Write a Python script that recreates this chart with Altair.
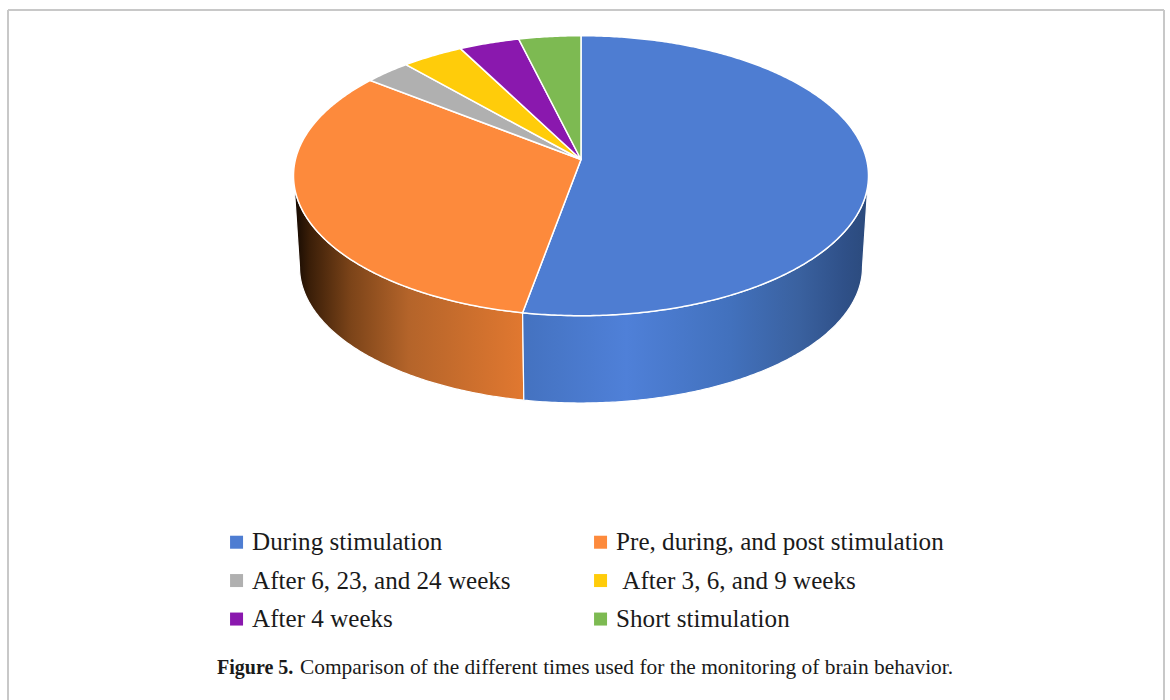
import math
import altair as alt

# Monitoring times and their share of the studies (percent)
categories = [
    "During stimulation",
    "Pre, during, and post stimulation",
    "After 6, 23, and 24 weeks",
    "\u200b\u00a0After 3, 6, and 9 weeks",
    "After 4 weeks",
    "Short stimulation",
]
shares = [52.9, 32.6, 2.9, 3.9, 3.8, 3.9]
colors = ["#4e7dd2", "#fd8a3c", "#b0b0b0", "#ffcc0a", "#8a18ae", "#7dba52"]

serif = "Liberation Serif"

# Perspective of the disc: upper and lower rim, in canvas units
APEX_X = 581.0
APEX_Y = 159.5
TOP_RIM = dict(far=35.7, near=315.7, half_width=287.5)
BOTTOM_RIM = dict(far=131.0, near=403.0, half_width=281.5)

# Solved so that the disc centre lands on the apex of the top face
TILT = (TOP_RIM["far"] + TOP_RIM["near"] - 2 * APEX_Y) / (TOP_RIM["near"] - TOP_RIM["far"])


def rim_point(angle, rim):
    """Project a clockwise-from-top angle (radians) onto a rim."""
    u, v = math.sin(angle), math.cos(angle)
    a_plus_b = rim["far"] * (1 + TILT)
    b_minus_a = rim["near"] * (1 - TILT)
    b = (a_plus_b + b_minus_a) / 2
    a = (a_plus_b - b_minus_a) / 2
    w = 1 + TILT * v
    d = rim["half_width"] * math.sqrt(1 - TILT * TILT)
    return [APEX_X + d * u / w, (a * v + b) / w]


def arc_angles(start, end, step=0.01):
    n = max(2, int((end - start) / step))
    return [start + (end - start) * i / n for i in range(n + 1)]


total = sum(shares)
edges = [0.0]
for s in shares:
    edges.append(edges[-1] + s / total * 2 * math.pi)

top_features = []
for name, start, end in zip(categories, edges[:-1], edges[1:]):
    ring = [[APEX_X, APEX_Y]] + [rim_point(t, TOP_RIM) for t in arc_angles(start, end)]
    ring.append([APEX_X, APEX_Y])
    top_features.append({
        "type": "Feature",
        "properties": {"name": name},
        "geometry": {"type": "Polygon", "coordinates": [ring]},
    })

# The wall is visible between the two silhouette generators of the disc
turn = math.pi / 2 + math.asin(TILT)
wall_ranges = [(turn, edges[1]), (edges[1], 2 * math.pi - turn)]


def wall_feature(start, end):
    angles = arc_angles(start, end)
    ring = [rim_point(t, TOP_RIM) for t in angles]
    ring += [rim_point(t, BOTTOM_RIM) for t in reversed(angles)]
    ring.append(ring[0])
    return {
        "type": "Feature",
        "properties": {},
        "geometry": {"type": "Polygon", "coordinates": [ring]},
    }


blue_wall_stops = [
    (0.0, "#4472c0"), (0.3, "#4f80d8"), (0.6, "#4271bd"),
    (0.8, "#3a619f"), (0.93, "#2f5088"), (1.0, "#2b4a7c"),
]
orange_wall_stops = [
    (0.0, "#120801"), (0.07, "#3a1e08"), (0.25, "#7c4419"),
    (0.5, "#b4642a"), (1.0, "#e17830"),
]

identity = dict(type="identity", scale=1, translate=[0, 0])


def wall_layer(feature, stops):
    gradient = alt.Gradient(
        gradient="linear", x1=0, x2=1, y1=0, y2=0,
        stops=[alt.GradientStop(offset=o, color=c) for o, c in stops],
    )
    return (
        alt.Chart(alt.Data(values=[feature]))
        .mark_geoshape(fill=gradient, stroke="#ffffff", strokeWidth=1.2)
        .project(**identity)
    )


walls = [
    wall_layer(wall_feature(*wall_ranges[1]), orange_wall_stops),
    wall_layer(wall_feature(*wall_ranges[0]), blue_wall_stops),
]

top_face = (
    alt.Chart(alt.Data(values=top_features))
    .mark_geoshape(stroke="#ffffff", strokeWidth=1.5)
    .encode(
        color=alt.Color(
            "properties.name:N",
            sort=None,
            scale=alt.Scale(domain=categories, range=colors),
            legend=alt.Legend(
                title=None,
                orient="none",
                direction="horizontal",
                legendX=224,
                legendY=529.5,
                columns=2,
                columnPadding=77,
                rowPadding=12.5,
                padding=0,
                symbolType="square",
                symbolSize=169,
                symbolStrokeWidth=0,
                labelFont=serif,
                labelFontSize=25.1,
                labelColor="#1a1a1a",
                labelOffset=3,
                labelLimit=500,
            ),
        )
    )
    .project(**identity)
)

# Page frame: left, right and top hairlines
frame_color = "#c8c8c8"
frame = [
    alt.Chart().mark_rule(color=frame_color, strokeWidth=2).encode(
        x=alt.value(8), y=alt.value(10), y2=alt.value(700)),
    alt.Chart().mark_rule(color=frame_color, strokeWidth=2).encode(
        x=alt.value(1164), y=alt.value(10), y2=alt.value(700)),
    alt.Chart().mark_rule(color=frame_color, strokeWidth=2).encode(
        x=alt.value(8), x2=alt.value(1164), y=alt.value(10)),
]

caption_lead = alt.Chart().mark_text(
    text="Figure 5.", font=serif, fontSize=20, fontWeight="bold",
    align="left", baseline="alphabetic", color="#1a1a1a",
).encode(x=alt.value(217), y=alt.value(674))

caption_body = alt.Chart().mark_text(
    text="Comparison of the different times used for the monitoring of brain behavior.",
    font=serif, fontSize=21.4, align="left", baseline="alphabetic", color="#1a1a1a",
).encode(x=alt.value(300), y=alt.value(674))

chart = alt.layer(*frame, *walls, top_face, caption_lead, caption_body).properties(
    width=1170, height=700, padding=0, autosize=alt.AutoSizeParams(type="none"),
    background="#ffffff",
).configure_view(stroke=None)

chart.save("out.html", embed_options={"renderer": "svg", "actions": False})
